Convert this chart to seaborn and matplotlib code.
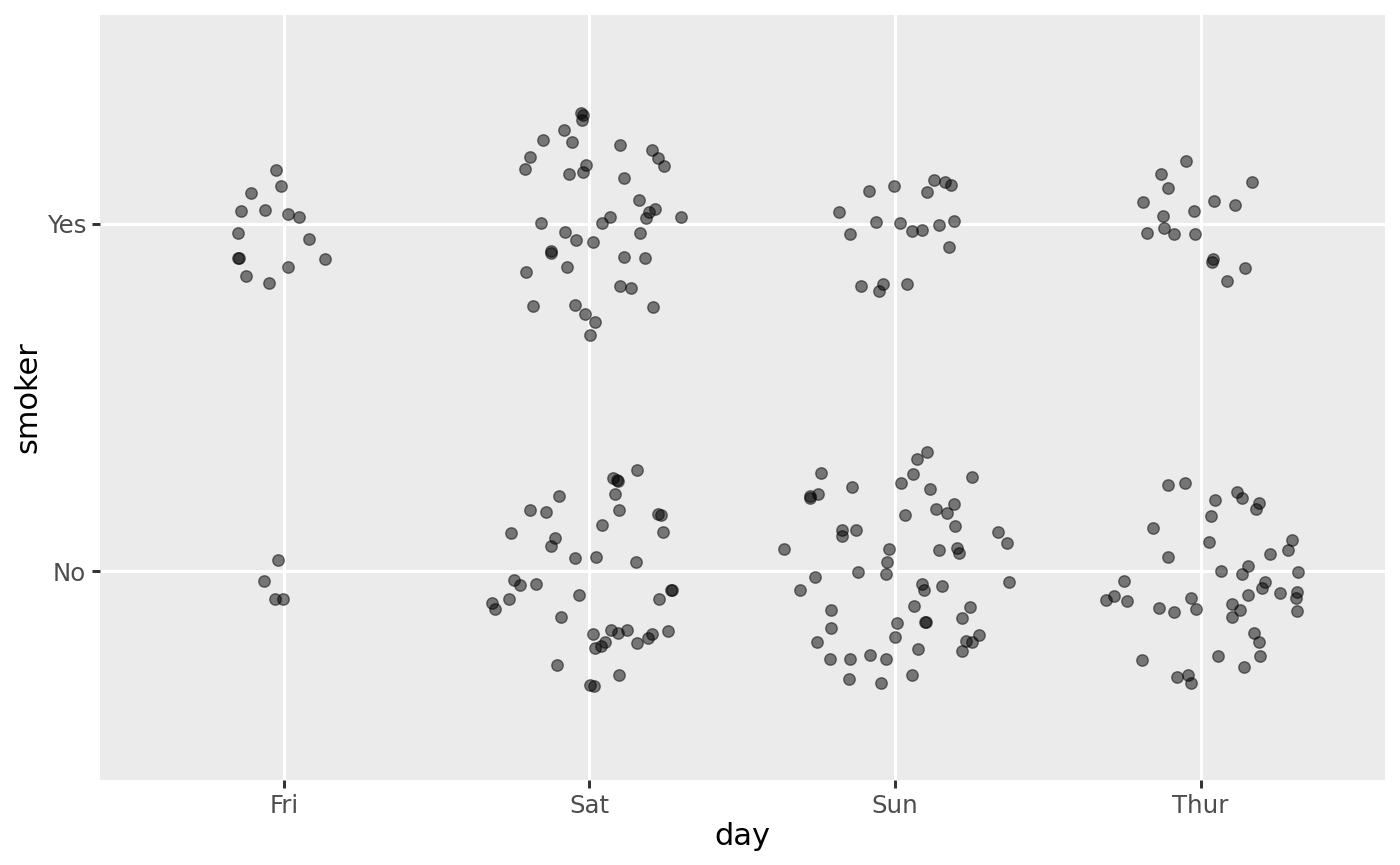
import numpy as np
import pandas as pd
import matplotlib
matplotlib.use("Agg")
import matplotlib.pyplot as plt
import seaborn as sns

days = ["Fri", "Sat", "Sun", "Thur"]
smoker_levels = ["No", "Yes"]

# jitter offsets (data units, relative to category centre)
fri_yes_dx = [-0.027, -0.010, -0.108, -0.141, -0.061, 0.013, 0.048, -0.150, 0.082, -0.147, -0.149, 0.135, 0.014, -0.123, -0.049]
fri_yes_dy = [0.153, 0.109, 0.089, 0.035, 0.040, 0.028, 0.019, -0.028, -0.043, -0.099, -0.098, -0.103, -0.124, -0.150, -0.172]
fri_no_dx = [-0.020, -0.065, -0.029, -0.003]
fri_no_dy = [0.034, -0.029, -0.080, -0.080]

sat_yes_dx = [-0.028, -0.020, -0.025, -0.082, -0.152, -0.058, 0.101, 0.203, 0.225, 0.244,
              -0.196, -0.211, -0.012, -0.020, -0.067, 0.113, 0.161, 0.194, 0.215, 0.186,
              0.300, 0.066, 0.041, -0.159, -0.079, -0.043, 0.010, 0.166, -0.126, -0.126,
              0.114, 0.181, -0.075, -0.207, 0.100, 0.135, -0.185, -0.047, 0.209, -0.015,
              0.019, 0.001]
sat_yes_dy = [0.318, 0.312, 0.298, 0.268, 0.241, 0.236, 0.227, 0.211, 0.190, 0.165,
              0.192, 0.157, 0.168, 0.147, 0.144, 0.130, 0.067, 0.034, 0.042, 0.015,
              0.020, 0.019, 0.003, 0.002, -0.025, -0.048, -0.054, -0.028, -0.080, -0.085,
              -0.095, -0.099, -0.126, -0.138, -0.179, -0.186, -0.238, -0.234, -0.241, -0.261,
              -0.282, -0.320]
sat_no_dx = [0.154, 0.078, 0.089, 0.093, 0.082, -0.100, 0.097, -0.194, -0.142, 0.225,
             0.235, 0.040, 0.239, -0.258, -0.113, -0.126, -0.046, 0.022, 0.151, -0.246,
             -0.227, -0.176, -0.319, -0.308, -0.263, -0.034, 0.270, 0.268, 0.228, -0.093,
             0.011, 0.071, 0.092, 0.124, 0.052, 0.039, 0.017, 0.155, 0.192, 0.205,
             0.257, -0.105, 0.097, 0.002, 0.016]
sat_no_dy = [0.290, 0.269, 0.264, 0.261, 0.223, 0.216, 0.177, 0.177, 0.170, 0.165,
             0.161, 0.134, 0.113, 0.109, 0.095, 0.074, 0.037, 0.040, 0.028, -0.025,
             -0.040, -0.037, -0.090, -0.107, -0.081, -0.068, -0.055, -0.053, -0.081, -0.130,
             -0.180, -0.169, -0.177, -0.169, -0.203, -0.215, -0.220, -0.206, -0.193, -0.181,
             -0.172, -0.269, -0.298, -0.326, -0.330]

sun_yes_dx = [-0.085, -0.004, 0.127, 0.163, 0.182, 0.105, -0.182, -0.062, 0.016, 0.057,
              0.087, 0.145, 0.192, -0.147, 0.177, -0.111, -0.040, -0.053, 0.039]
sun_yes_dy = [0.095, 0.107, 0.124, 0.119, 0.110, 0.091, 0.032, 0.004, 0.002, -0.021,
              -0.018, -0.004, 0.008, -0.029, -0.068, -0.180, -0.174, -0.193, -0.173]
sun_no_dx = [0.104, 0.071, -0.244, 0.058, 0.252, 0.019, -0.141, 0.115, -0.253, -0.278,
             -0.278, 0.193, 0.134, 0.170, 0.034, -0.173, -0.173, -0.129, 0.196, 0.336,
             0.365, -0.363, -0.019, 0.145, 0.204, 0.210, -0.028, -0.121, -0.029, -0.263,
             -0.311, 0.088, 0.094, 0.154, 0.374, -0.210, 0.061, 0.244, 0.220, 0.098,
             0.100, 0.007, -0.210, 0.000, 0.276, 0.231, 0.252, 0.220, -0.257, 0.075,
             -0.213, -0.147, -0.083, -0.030, -0.150, -0.045, 0.055]
sun_no_dy = [0.344, 0.323, 0.282, 0.279, 0.270, 0.255, 0.243, 0.238, 0.223, 0.218,
             0.212, 0.193, 0.180, 0.168, 0.162, 0.118, 0.101, 0.118, 0.130, 0.113,
             0.082, 0.064, 0.065, 0.061, 0.066, 0.052, 0.027, -0.003, -0.009, -0.016,
             -0.053, -0.035, -0.054, -0.041, -0.032, -0.111, -0.101, -0.103, -0.134, -0.147,
             -0.145, -0.150, -0.163, -0.190, -0.184, -0.201, -0.202, -0.228, -0.204, -0.223,
             -0.253, -0.252, -0.241, -0.253, -0.310, -0.320, -0.297]

thur_yes_dx = [-0.049, -0.130, 0.169, -0.106, -0.189, 0.044, 0.111, -0.023, -0.123, -0.119,
               -0.177, -0.088, -0.020, 0.040, 0.036, 0.146, 0.087]
thur_yes_dy = [0.181, 0.144, 0.119, 0.103, 0.061, 0.065, 0.054, 0.035, 0.023, -0.012,
               -0.027, -0.030, -0.030, -0.103, -0.111, -0.128, -0.166]
thur_no_dx = [-0.106, -0.050, 0.120, 0.134, 0.191, 0.181, 0.047, 0.033, -0.156, 0.026,
              0.298, 0.287, 0.227, -0.106, 0.065, 0.155, 0.136, 0.320, -0.251, 0.212,
              0.202, 0.156, 0.259, 0.315, 0.311, -0.310, -0.282, -0.241, -0.030, -0.014,
              -0.135, -0.088, 0.102, 0.128, 0.104, 0.315, 0.174, 0.191, 0.057, 0.193,
              -0.191, 0.142, -0.076, -0.040, -0.033]
thur_no_dy = [0.248, 0.255, 0.229, 0.211, 0.197, 0.180, 0.205, 0.158, 0.126, 0.083,
              0.089, 0.061, 0.051, 0.042, 0.000, 0.015, -0.007, -0.002, -0.027, -0.032,
              -0.047, -0.067, -0.062, -0.058, -0.078, -0.082, -0.072, -0.085, -0.076, -0.107,
              -0.105, -0.117, -0.095, -0.111, -0.131, -0.114, -0.178, -0.204, -0.244, -0.244,
              -0.255, -0.276, -0.303, -0.299, -0.320]

groups = [
    ("Fri", "Yes", fri_yes_dx, fri_yes_dy), ("Fri", "No", fri_no_dx, fri_no_dy),
    ("Sat", "Yes", sat_yes_dx, sat_yes_dy), ("Sat", "No", sat_no_dx, sat_no_dy),
    ("Sun", "Yes", sun_yes_dx, sun_yes_dy), ("Sun", "No", sun_no_dx, sun_no_dy),
    ("Thur", "Yes", thur_yes_dx, thur_yes_dy), ("Thur", "No", thur_no_dx, thur_no_dy),
]
rows = []
for d, s, dxs, dys in groups:
    for a, b in zip(dxs, dys):
        rows.append({"day": d, "smoker": s,
                     "x": days.index(d) + 1 + a,
                     "y": smoker_levels.index(s) + 1 + b})
df = pd.DataFrame(rows)

sns.set_theme(style="darkgrid", rc={
    "axes.facecolor": "#EBEBEB",
    "figure.facecolor": "white",
    "grid.color": "white",
    "grid.linewidth": 1.1,
    "axes.edgecolor": "#EBEBEB",
    "xtick.color": "#333333",
    "ytick.color": "#333333",
    "xtick.labelcolor": "#4D4D4D",
    "ytick.labelcolor": "#4D4D4D",
    "xtick.major.size": 2.75,
    "ytick.major.size": 2.75,
    "xtick.major.width": 1.07,
    "ytick.major.width": 1.07,
    "xtick.bottom": True,
    "ytick.left": True,
})
plt.rcParams["font.family"] = ["DejaVu Sans"]

fig = plt.figure(figsize=(7, 4.325), dpi=200)
ax = fig.add_axes([0.0714, 0.0983, 0.9176, 0.8844])
sns.scatterplot(data=df, x="x", y="y", ax=ax, color="black", alpha=0.5,
                s=17, edgecolor="black", linewidth=0.5, legend=False)
ax.set_xlim(0.398, 4.602)
ax.set_ylim(0.4, 2.6)
ax.set_xticks([1, 2, 3, 4])
ax.set_xticklabels(days, fontsize=8.8)
ax.set_yticks([1, 2])
ax.set_yticklabels(smoker_levels, fontsize=8.8)
ax.tick_params(axis="both", pad=2.2)
ax.grid(True, which="major", color="white", linewidth=1.1)
ax.set_xlabel("day", fontsize=11, color="black", labelpad=1.5)
ax.set_ylabel("smoker", fontsize=11, color="black", labelpad=1.5)
for sp in ax.spines.values():
    sp.set_visible(False)
fig.savefig("out.png", dpi=200)
